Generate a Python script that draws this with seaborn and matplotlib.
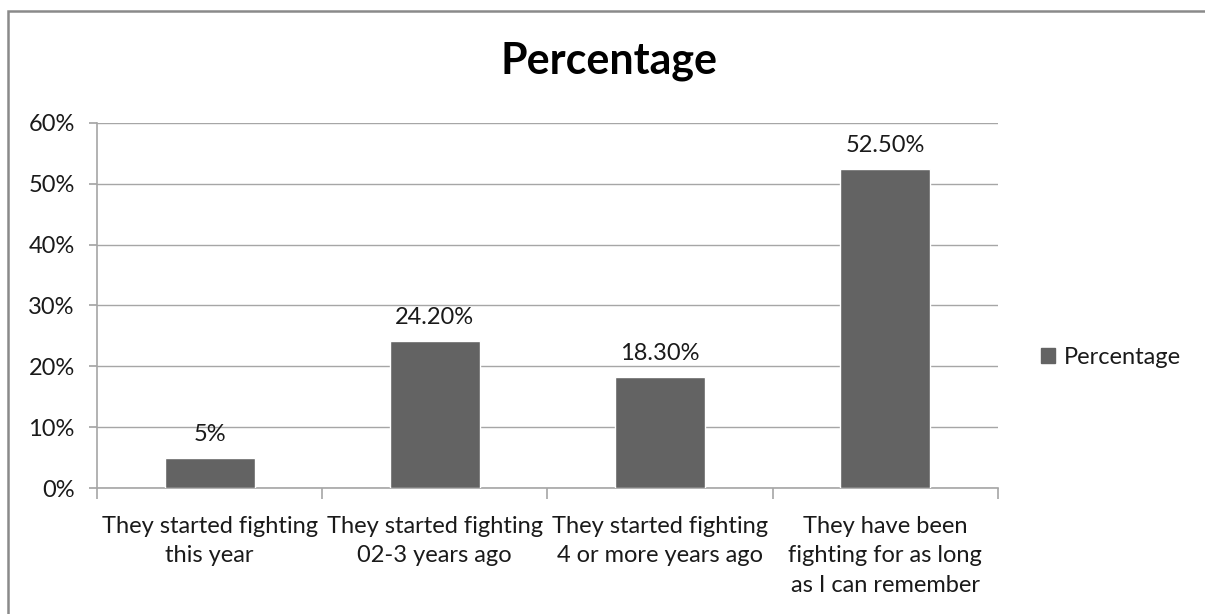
import matplotlib
matplotlib.use("Agg")
import matplotlib.pyplot as plt
import matplotlib.patches as mpatches
import seaborn as sns
import pandas as pd
from matplotlib.ticker import FixedLocator, FuncFormatter

categories = [
    "They started fighting\nthis year",
    "They started fighting\n02-3 years ago",
    "They started fighting\n4 or more years ago",
    "They have been\nfighting for as long\nas I can remember",
]
values = [5.0, 24.2, 18.3, 52.5]
value_labels = ["5%", "24.20%", "18.30%", "52.50%"]
yticks = [0, 10, 20, 30, 40, 50, 60]
series_name = "Percentage"

bar_color = "#636363"
grid_color = "#a6a6a6"
text_color = "#1a1a1a"
fs = 17

sns.set_theme(style="white")
plt.rcParams["font.family"] = ["Lato", "DejaVu Sans"]

df = pd.DataFrame({"category": categories, "value": values})

fig = plt.figure(figsize=(12.05, 6.14), dpi=100)
ax = fig.add_axes([0.0805, 0.2052, 0.828 - 0.0805, 0.7997 - 0.2052])

sns.barplot(data=df, x="category", y="value", color=bar_color,
            width=0.4, saturation=1, ax=ax, zorder=3)

ax.set_ylim(0, 60)
ax.set_xlim(-0.5, len(categories) - 0.5)
ax.yaxis.set_major_locator(FixedLocator(yticks))
ax.yaxis.set_major_formatter(FuncFormatter(lambda v, p: f"{v:.0f}%"))
ax.grid(axis="y", color=grid_color, linewidth=1.0, zorder=0)
ax.set_axisbelow(True)

for side in ("top", "right"):
    ax.spines[side].set_visible(False)
for side in ("left", "bottom"):
    ax.spines[side].set_color(grid_color)
    ax.spines[side].set_linewidth(1.2)

ax.tick_params(axis="y", which="major", left=True, length=6, color=grid_color,
               labelsize=fs, labelcolor=text_color, pad=10)
ax.tick_params(axis="x", which="major", bottom=False, labelsize=fs,
               labelcolor=text_color, pad=14)
for t in ax.get_xticklabels():
    t.set_linespacing(1.5)
ax.set_xticks([i - 0.5 for i in range(len(categories) + 1)], minor=True)
ax.tick_params(axis="x", which="minor", bottom=True, length=8, color=grid_color, width=1.2)
ax.set_xlabel("")
ax.set_ylabel("")

for i, (v, lab) in enumerate(zip(values, value_labels)):
    ax.annotate(lab, xy=(i, v), xytext=(0, 9), textcoords="offset points",
                ha="center", va="bottom", fontsize=fs, color=text_color)

fig.text(0.505, 0.9, "Percentage", ha="center", va="center",
         fontsize=31, fontweight="bold", color="black")

handle = mpatches.Patch(color=bar_color, label=series_name)
fig.legend(handles=[handle], loc="center left", bbox_to_anchor=(0.846, 0.418),
           frameon=False, fontsize=fs, handlelength=0.6, handleheight=0.6,
           handletextpad=0.4, labelcolor=text_color)

# outer chart frame
frame = mpatches.Rectangle((8 / 1205, -0.1), 1.2, 1 - 11 / 614 + 0.1,
                           transform=fig.transFigure, fill=False,
                           edgecolor="#8a8a8a", linewidth=1.8)
fig.patches.append(frame)

fig.savefig("out.png", dpi=100)
